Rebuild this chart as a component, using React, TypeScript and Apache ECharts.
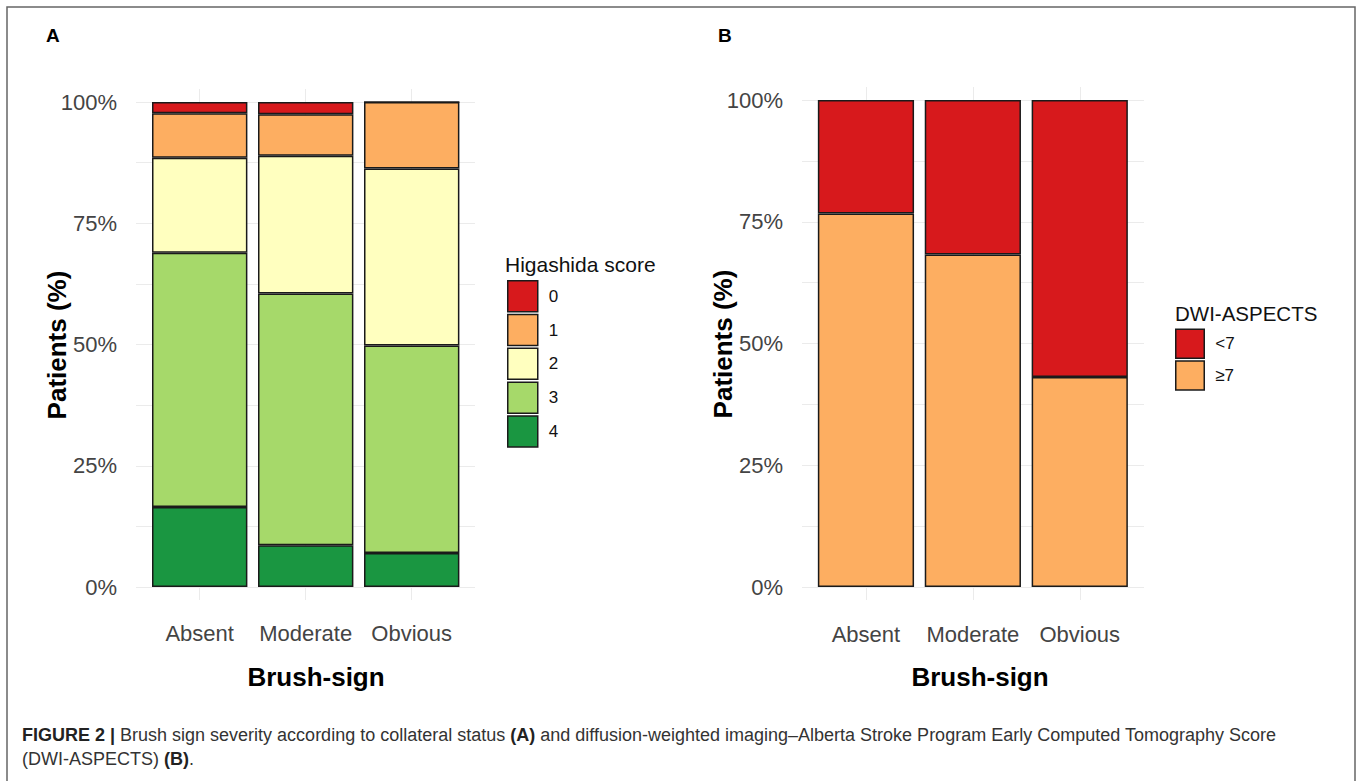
import React, { useEffect, useRef } from "react";
import * as echarts from "echarts";

const FONT = '"Liberation Sans", Arial, Helvetica, sans-serif';

const categories = ["Absent", "Moderate", "Obvious"];
const higashidaScores = ["0", "1", "2", "3", "4"];
const score0 = [2.3, 2.5, 0];
const score1 = [9.2, 8.6, 13.7];
const score2 = [19.6, 28.4, 36.5];
const score3 = [52.4, 51.9, 42.8];
const score4 = [16.5, 8.6, 7.0];
const aspectsGroups = ["<7", "≥7"];
const aspectsLt7 = [23.3, 31.7, 56.9];
const aspectsGe7 = [76.7, 68.3, 43.1];
const yTicks = [0, 25, 50, 75, 100];

const scoreColors: Record<string, string> = {
  "0": "#d7191c",
  "1": "#fdae61",
  "2": "#ffffbf",
  "3": "#a6d96a",
  "4": "#1a9641",
};
const aspectsColors: Record<string, string> = { "<7": "#d7191c", "≥7": "#fdae61" };

const GRID_COLOR = "#ebebeb";
const BORDER = "#1a1a1a";

export default function App() {
  const ref = useRef<HTMLDivElement>(null);
  useEffect(() => {
    if (!ref.current) return;
    const chart = echarts.init(ref.current, undefined, { renderer: "svg" });

    const bgY = (gridIndex: number) => ({
      type: "value",
      gridIndex,
      min: yTicks[0],
      max: yTicks[yTicks.length - 1],
      interval: 25,
      axisLine: { show: false },
      axisTick: { show: false },
      axisLabel: {
        formatter: "{value}%",
        fontSize: 22,
        color: "#444",
        fontFamily: FONT,
        margin: 19,
      },
      splitLine: { show: true, lineStyle: { color: GRID_COLOR, width: 1 } },
      minorTick: { show: false, splitNumber: 2 },
      minorSplitLine: { show: true, lineStyle: { color: GRID_COLOR, width: 1 } },
    });
    const hiddenValue = (gridIndex: number, min: number, max: number) => ({
      type: "value",
      gridIndex,
      min,
      max,
      show: false,
      splitLine: { show: false },
    });
    const catX = (gridIndex: number, margin: number) => ({
      type: "category",
      gridIndex,
      data: categories,
      axisLine: { show: false },
      axisTick: { show: false },
      splitLine: { show: false },
      axisLabel: { fontSize: 22, color: "#444", fontFamily: FONT, margin, interval: 0 },
    });
    const vLines = (xIdx: number, yIdx: number) => ({
      type: "line",
      xAxisIndex: xIdx,
      yAxisIndex: yIdx,
      data: [],
      z: 0,
      silent: true,
      markLine: {
        z: 0,
        silent: true,
        symbol: ["none", "none"],
        label: { show: false },
        lineStyle: { color: GRID_COLOR, width: 1, type: "solid" },
        data: categories.map((_, i) => ({ xAxis: i + 1 })),
      },
    });
    const barSeries = (name: string, data: number[], color: string, xIdx: number, yIdx: number, stack: string) => ({
      type: "bar",
      name,
      data,
      stack,
      xAxisIndex: xIdx,
      yAxisIndex: yIdx,
      barWidth: "90%",
      z: 3,
      itemStyle: { color, borderColor: BORDER, borderWidth: 1.5 },
    });

    const scoreData: Record<string, number[]> = { "0": score0, "1": score1, "2": score2, "3": score3, "4": score4 };
    const aspectsData: Record<string, number[]> = { "<7": aspectsLt7, "≥7": aspectsGe7 };

    const option: any = {
      animation: false,
      backgroundColor: "#ffffff",
      textStyle: { fontFamily: FONT },
      grid: [
        { left: 136, top: 102, width: 339, height: 485 },
        { left: 136, top: 89, width: 339, height: 511 },
        { left: 146.7, top: 102, width: 318, height: 485 },
        { left: 802, top: 100, width: 342, height: 487 },
        { left: 802, top: 87, width: 342, height: 513 },
        { left: 812.5, top: 100, width: 320.7, height: 487 },
      ],
      xAxis: [
        hiddenValue(0, 0, 1),
        hiddenValue(1, 0.4, 3.6),
        catX(2, 35),
        hiddenValue(3, 0, 1),
        hiddenValue(4, 0.4, 3.6),
        catX(5, 36),
      ],
      yAxis: [
        bgY(0),
        hiddenValue(1, 0, 1),
        hiddenValue(2, 0, 100),
        bgY(3),
        hiddenValue(4, 0, 1),
        hiddenValue(5, 0, 100),
      ],
      legend: [
        {
          data: higashidaScores,
          orient: "vertical",
          left: 507,
          top: 280,
          padding: 0,
          icon: "rect",
          itemWidth: 30,
          itemHeight: 31,
          itemGap: 1.3,
          selectedMode: false,
          itemStyle: { borderColor: BORDER, borderWidth: 1.5 },
          textStyle: { fontSize: 17, color: "#111", fontFamily: FONT, padding: [0, 0, 0, 6] },
        },
        {
          data: aspectsGroups,
          orient: "vertical",
          left: 1175,
          top: 328.5,
          padding: 0,
          icon: "rect",
          itemWidth: 28.5,
          itemHeight: 29,
          itemGap: 1.2,
          selectedMode: false,
          itemStyle: { borderColor: BORDER, borderWidth: 1.5 },
          textStyle: { fontSize: 17, color: "#111", fontFamily: FONT, padding: [0, 0, 0, 6] },
        },
      ],
      series: [
        vLines(1, 1),
        vLines(4, 4),
        ...["4", "3", "2", "1", "0"].map((s) => barSeries(s, scoreData[s], scoreColors[s], 2, 2, "A")),
        ...["≥7", "<7"].map((s) => barSeries(s, aspectsData[s], aspectsColors[s], 5, 5, "B")),
      ],
      graphic: [
        {
          type: "rect",
          shape: { x: 7, y: 7, width: 1348, height: 800 },
          style: { fill: "none", stroke: "#666", lineWidth: 1.5 },
          silent: true,
        },
        {
          type: "text",
          x: 46,
          y: 35,
          style: { text: "A", fontSize: 19, fontWeight: "bold", fontFamily: FONT, fill: "#000", verticalAlign: "middle" },
        },
        {
          type: "text",
          x: 718,
          y: 35,
          style: { text: "B", fontSize: 19, fontWeight: "bold", fontFamily: FONT, fill: "#000", verticalAlign: "middle" },
        },
        {
          type: "text",
          x: 57,
          y: 345,
          rotation: Math.PI / 2,
          style: { text: "Patients (%)", fontSize: 26, fontWeight: "bold", fontFamily: FONT, fill: "#000", align: "center", verticalAlign: "middle" },
        },
        {
          type: "text",
          x: 723,
          y: 344,
          rotation: Math.PI / 2,
          style: { text: "Patients (%)", fontSize: 26, fontWeight: "bold", fontFamily: FONT, fill: "#000", align: "center", verticalAlign: "middle" },
        },
        {
          type: "text",
          x: 316,
          y: 677,
          style: { text: "Brush-sign", fontSize: 26, fontWeight: "bold", fontFamily: FONT, fill: "#000", align: "center", verticalAlign: "middle" },
        },
        {
          type: "text",
          x: 980,
          y: 677,
          style: { text: "Brush-sign", fontSize: 26, fontWeight: "bold", fontFamily: FONT, fill: "#000", align: "center", verticalAlign: "middle" },
        },
        {
          type: "text",
          x: 505,
          y: 264,
          style: { text: "Higashida score", fontSize: 21, fontFamily: FONT, fill: "#111", verticalAlign: "middle" },
        },
        {
          type: "text",
          x: 1175,
          y: 313,
          style: { text: "DWI-ASPECTS", fontSize: 20.5, fontFamily: FONT, fill: "#111", verticalAlign: "middle" },
        },
        {
          type: "text",
          x: 22,
          y: 735,
          style: {
            text:
              "{b|FIGURE 2 |} {n|Brush sign severity according to collateral status }{b|(A)}{n| and diffusion-weighted imaging–Alberta Stroke Program Early Computed Tomography Score}",
            verticalAlign: "middle",
            rich: {
              b: { fontSize: 18, fontWeight: "bold", fontFamily: FONT, fill: "#222" },
              n: { fontSize: 18, fontFamily: FONT, fill: "#333" },
            },
            fontSize: 18,
            fontFamily: FONT,
            fill: "#333",
          },
        },
        {
          type: "text",
          x: 22,
          y: 759,
          style: {
            text: "{n|(DWI-ASPECTS) }{b|(B)}{n|.}",
            verticalAlign: "middle",
            rich: {
              b: { fontSize: 18, fontWeight: "bold", fontFamily: FONT, fill: "#222" },
              n: { fontSize: 18, fontFamily: FONT, fill: "#333" },
            },
            fontSize: 18,
            fontFamily: FONT,
            fill: "#333",
          },
        },
      ],
    };
    chart.setOption(option);
    return () => chart.dispose();
  }, []);
  return (
    <div
      ref={ref}
      style={{ position: "fixed", left: 0, top: 0, width: 1357, height: 781, background: "#fff" }}
    />
  );
}
